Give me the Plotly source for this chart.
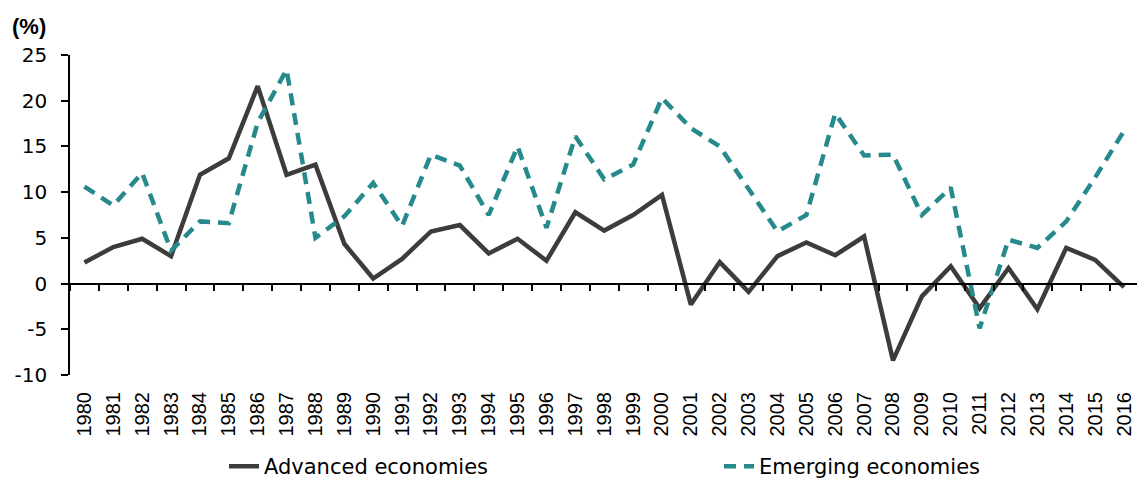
import plotly.graph_objects as go

years = list(range(1980, 2017))
year_labels = [str(y) for y in years]
advanced = [2.3, 4.0, 4.9, 3.0, 11.9, 13.7, 21.6, 11.9, 13.0, 4.35, 0.55, 2.7, 5.7, 6.4, 3.3, 4.9,
            2.5, 7.8, 5.8, 7.5, 9.7, -2.3, 2.35, -0.9, 3.0, 4.5, 3.1, 5.15, -8.4, -1.4, 1.9, -2.7,
            1.7, -2.8, 3.9, 2.6, -0.4]
emerging = [10.6, 8.55, 12.1, 3.6, 6.8, 6.6, 17.6, 23.4, 5.0, 7.35, 11.0, 6.3, 14.1, 12.9, 7.5, 15.0,
            6.1, 16.1, 11.4, 13.0, 20.3, 17.0, 15.0, 10.3, 5.7, 7.5, 18.6, 14.0, 14.1, 7.5, 10.5, -4.9,
            4.8, 3.9, 6.8, 11.6, 16.7]
y_ticks = [-10, -5, 0, 5, 10, 15, 20, 25]
y_tick_text = ["-10", "-5", "0", "5", "10", "15", "20", "25"]

font = "DejaVu Sans, sans-serif"
narrow = "Liberation Sans, Arial, sans-serif"

W, H = 1137, 481
L, R, T, B = 70, 0, 55, 106
pw, ph = W - L - R, H - T - B

fig = go.Figure()
fig.add_trace(go.Scatter(x=years, y=advanced, mode="lines", name="Advanced economies",
                         line=dict(color="#3c3c3b", width=4.5), legend="legend"))
fig.add_trace(go.Scatter(x=years, y=emerging, mode="lines", name="Emerging economies",
                         line=dict(color="#268a8c", width=4.5, dash="12px,8px"), legend="legend2"))
# invisible trace to drive the zero-crossing axis
fig.add_trace(go.Scatter(x=years, y=advanced, xaxis="x2", mode="lines", showlegend=False,
                         hoverinfo="skip", line=dict(width=0), opacity=0))

xr = [1979.5, 2016.45]
fig.update_layout(
    width=W, height=H,
    margin=dict(l=L, r=R, t=T, b=B),
    plot_bgcolor="white", paper_bgcolor="white",
    font=dict(family=font, size=20, color="black"),
    xaxis=dict(range=xr, tickmode="array", tickvals=years, ticktext=year_labels,
               tickangle=-90, showgrid=False, zeroline=False, showline=False, ticks="",
               tickfont=dict(family=narrow, size=20), ticklabelstandoff=12),
    xaxis2=dict(range=xr, overlaying="x", anchor="free", position=10 / 35,
                showline=True, linecolor="black", linewidth=1.5, ticks="outside", ticklen=7,
                tickwidth=1.5, tickcolor="black", tick0=1979.5, dtick=1, showticklabels=False,
                showgrid=False, zeroline=False),
    yaxis=dict(range=[-10, 25], tickmode="array", tickvals=y_ticks, ticktext=y_tick_text,
               showgrid=False, zeroline=False,
               showline=True, linecolor="black", linewidth=1.5, ticks="outside", ticklen=7,
               tickwidth=1.5, tickcolor="black", tickfont=dict(size=20), ticklabelstandoff=10),
    legend=dict(orientation="h", xref="container", yref="container", x=(265 - 41) / W,
                xanchor="left", y=0.03, yanchor="middle", font=dict(size=21),
                bgcolor="rgba(0,0,0,0)"),
    legend2=dict(orientation="h", xref="container", yref="container", x=(760 - 41) / W,
                 xanchor="left", y=0.03, yanchor="middle", font=dict(size=21),
                 bgcolor="rgba(0,0,0,0)"),
    showlegend=True,
)
fig.add_annotation(text="<b>(%)</b>", xref="paper", yref="paper", x=(10 - L) / pw,
                   y=(H - B - 26) / ph, xanchor="left", yanchor="middle", showarrow=False,
                   font=dict(family=narrow, size=22))

fig.write_html("out.html", config={"displayModeBar": False},
               post_script="document.body.style.margin='0';")
